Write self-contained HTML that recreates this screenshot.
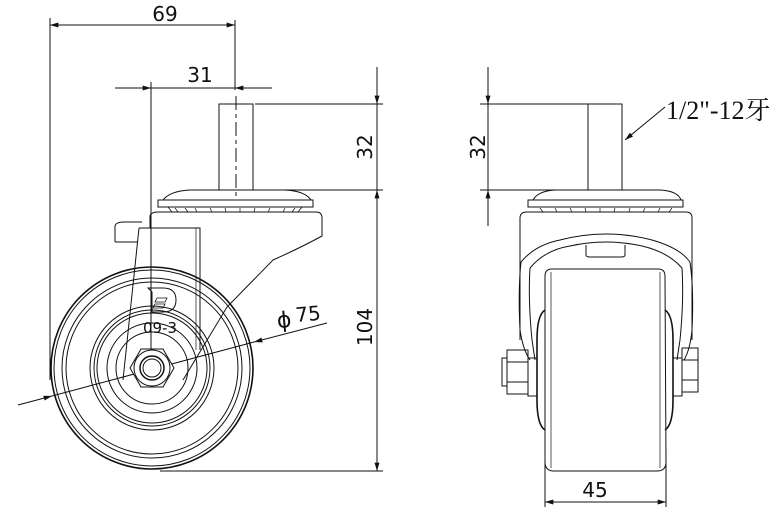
<!DOCTYPE html>
<html><head><meta charset="utf-8"><style>
html,body{margin:0;padding:0;background:#fff;}
svg{display:block;}
text{font-family:"DejaVu Sans","Liberation Sans",sans-serif;fill:#111;}
</style></head><body>
<svg width="777" height="518" viewBox="0 0 777 518" xmlns="http://www.w3.org/2000/svg">
<defs>
<marker id="a" viewBox="0 0 10 6" refX="10" refY="3" markerWidth="14" markerHeight="5" markerUnits="userSpaceOnUse" orient="auto-start-reverse"><path d="M0,0 L10,3 L0,6 z" fill="#111"/></marker>
</defs>
<g fill="none" stroke="#111" stroke-width="1">
<line x1="50" y1="18" x2="50" y2="380"/>
<line x1="235" y1="20" x2="235" y2="90"/>
<line x1="50" y1="25" x2="235" y2="25" marker-start="url(#a)" marker-end="url(#a)"/>
<line x1="151" y1="82" x2="151" y2="368"/>
<line x1="115" y1="88" x2="151" y2="88" marker-end="url(#a)"/>
<line x1="151" y1="88" x2="272" y2="88"/>
<line x1="272" y1="88" x2="235" y2="88" marker-end="url(#a)"/>
<line x1="255" y1="104" x2="383" y2="104"/>
<line x1="270" y1="190" x2="383" y2="190"/>
<line x1="377" y1="67" x2="377" y2="104" marker-end="url(#a)"/>
<line x1="377" y1="104" x2="377" y2="190"/>
<line x1="377" y1="471" x2="377" y2="190" marker-end="url(#a)"/>
<line x1="377" y1="190" x2="377" y2="471" marker-end="url(#a)"/>
<line x1="160" y1="471" x2="383" y2="471"/>
<line x1="18" y1="405" x2="52" y2="396" marker-end="url(#a)"/>
<line x1="52" y1="396" x2="254" y2="342"/>
<line x1="327" y1="323" x2="254" y2="342" marker-end="url(#a)"/>
<rect x="219" y="104" width="34" height="86"/>
<line x1="236" y1="96" x2="236" y2="198" stroke-dasharray="14,4,4,4"/>
<path d="M163,200 Q170,191 190,190 L285,190 Q305,191 311,200"/>
<rect x="158" y="200" width="155" height="7"/>
<path d="M168,207 L302,207 L298,212 L172,212 Z" stroke-width="0.8"/>
<path d="M175,208 l3,4 M185,208 l3,4 M195,208 l2,4 M210,208 l2,4 M225,208 l1,4 M240,208 l0,4 M255,208 l-1,4 M270,208 l-2,4 M285,208 l-2,4 M295,208 l-3,4" stroke-width="0.7"/>
<path d="M150,228 L150,216 Q151,212 158,212 L316,212 Q322,212 322,218 L322,236 Q300,248 273,260 L227,307 L183,380"/>
<path d="M115,242 L115,226 Q116,222 124,222 L142,222"/>
<path d="M115,242 L138,242"/>
<path d="M139,228 L200,228 L200,350"/>
<path d="M196,228 L196,350" stroke-width="0.7"/>
<path d="M139,228 L123,380"/>
<circle cx="152" cy="368" r="101" stroke-width="1.6"/>
<circle cx="152" cy="368" r="98"/>
<circle cx="152" cy="368" r="90"/>
<circle cx="152" cy="368" r="86"/>
<circle cx="152" cy="368" r="62"/>
<circle cx="152" cy="368" r="58"/>
<circle cx="152" cy="368" r="55"/>
<circle cx="152" cy="368" r="45"/>
<circle cx="152" cy="368" r="36"/>
<polygon points="174,368 163,387 141,387 130,368 141,349 163,349" fill="#fff"/>
<circle cx="152" cy="368" r="18"/>
<circle cx="152" cy="368" r="12" stroke-width="1.5"/>
<circle cx="152" cy="368" r="9"/>
<path d="M148,288 L163,288 Q176,288 176,300 Q176,312 163,312 L152,312 L152,292 Z"/>
<path d="M157,298 l10,0 l-2,4 l-10,0 z M155,304 l10,0 l-2,4 l-10,0 z" stroke-width="0.8"/>

<line x1="480" y1="104" x2="588" y2="104"/>
<line x1="480" y1="190" x2="588" y2="190"/>
<line x1="488" y1="67" x2="488" y2="104" marker-end="url(#a)"/>
<line x1="488" y1="104" x2="488" y2="190"/>
<line x1="488" y1="226" x2="488" y2="190" marker-end="url(#a)"/>
<line x1="665" y1="107" x2="625" y2="140" marker-end="url(#a)"/>
<line x1="545" y1="450" x2="545" y2="507"/>
<line x1="666" y1="450" x2="666" y2="507"/>
<line x1="545" y1="502" x2="666" y2="502" marker-start="url(#a)" marker-end="url(#a)"/>
<rect x="588" y="104" width="34" height="86"/>
<path d="M533,200 Q538,191 555,190 L660,190 Q678,191 681,200"/>
<rect x="528" y="200" width="155" height="7"/>
<path d="M540,208 l3,4 M555,208 l2,4 M570,208 l2,4 M585,208 l1,4 M600,208 l0,4 M615,208 l-1,4 M630,208 l-1,4 M645,208 l-2,4 M660,208 l-2,4 M672,208 l-3,4" stroke-width="0.7"/>
<path d="M520,340 L520,218 Q520,212 527,212 L686,212 Q692,212 692,218 L692,340"/>
<path d="M521,262 Q535,245 560,240 Q606,228 652,240 Q680,248 690,262"/>
<path d="M530,268 Q545,250 570,246 Q606,238 642,246 Q668,252 682,268" />
<path d="M521,262 Q518,290 520,330 Q523,350 530,360"/>
<path d="M530,268 Q528,300 532,340 L535,360"/>
<path d="M690,262 Q694,290 692,330 Q690,350 684,360"/>
<path d="M682,268 Q684,300 680,340 L677,360"/>
<path d="M586,245 L586,255 Q586,257 590,257 L621,257 Q625,257 625,255 L625,245"/>
<path d="M545,276 Q545,269 552,269 L658,269 Q665,269 665,276 L666,462 Q666,471 657,471 L554,471 Q545,471 545,462 Z"/>
<line x1="551" y1="272" x2="551" y2="468" stroke-width="0.7"/>
<line x1="660" y1="272" x2="660" y2="468" stroke-width="0.7"/>
<path d="M545,310 Q537,315 537,340 L537,400 Q537,425 545,430" stroke-width="1.6"/>
<path d="M665,310 Q673,315 673,340 L673,400 Q673,425 665,430" stroke-width="1.6"/>
<rect x="528" y="358" width="9" height="38"/>
<rect x="507" y="350" width="21" height="44"/>
<line x1="507" y1="362" x2="528" y2="362"/><line x1="507" y1="382" x2="528" y2="382"/>
<rect x="502" y="358" width="5" height="28"/>
<rect x="673" y="358" width="9" height="38"/>
<rect x="682" y="348" width="16" height="44"/>
<line x1="682" y1="360" x2="698" y2="360"/><line x1="682" y1="380" x2="698" y2="380"/>
</g>
<g font-size="20">
<text x="165" y="21" text-anchor="middle">69</text>
<text x="200" y="82" text-anchor="middle">31</text>
<text transform="translate(372,147) rotate(-90)" text-anchor="middle">32</text>
<text transform="translate(372,327) rotate(-90)" text-anchor="middle">104</text>
<text transform="translate(485,147) rotate(-90)" text-anchor="middle">32</text>
<text x="296" y="322" transform="rotate(-5 296 322)">75</text>
<text x="595" y="497" text-anchor="middle">45</text>
</g>
<text x="277" y="328" font-size="22" transform="rotate(-5 277 322)">ϕ</text>
<text x="160" y="333" font-size="15" text-anchor="middle">09-3</text>
<text x="666" y="119" style="font-family:'Liberation Serif','Noto Serif CJK SC',serif;font-size:26px">1/2"-12牙</text>
</svg>
</body></html>
